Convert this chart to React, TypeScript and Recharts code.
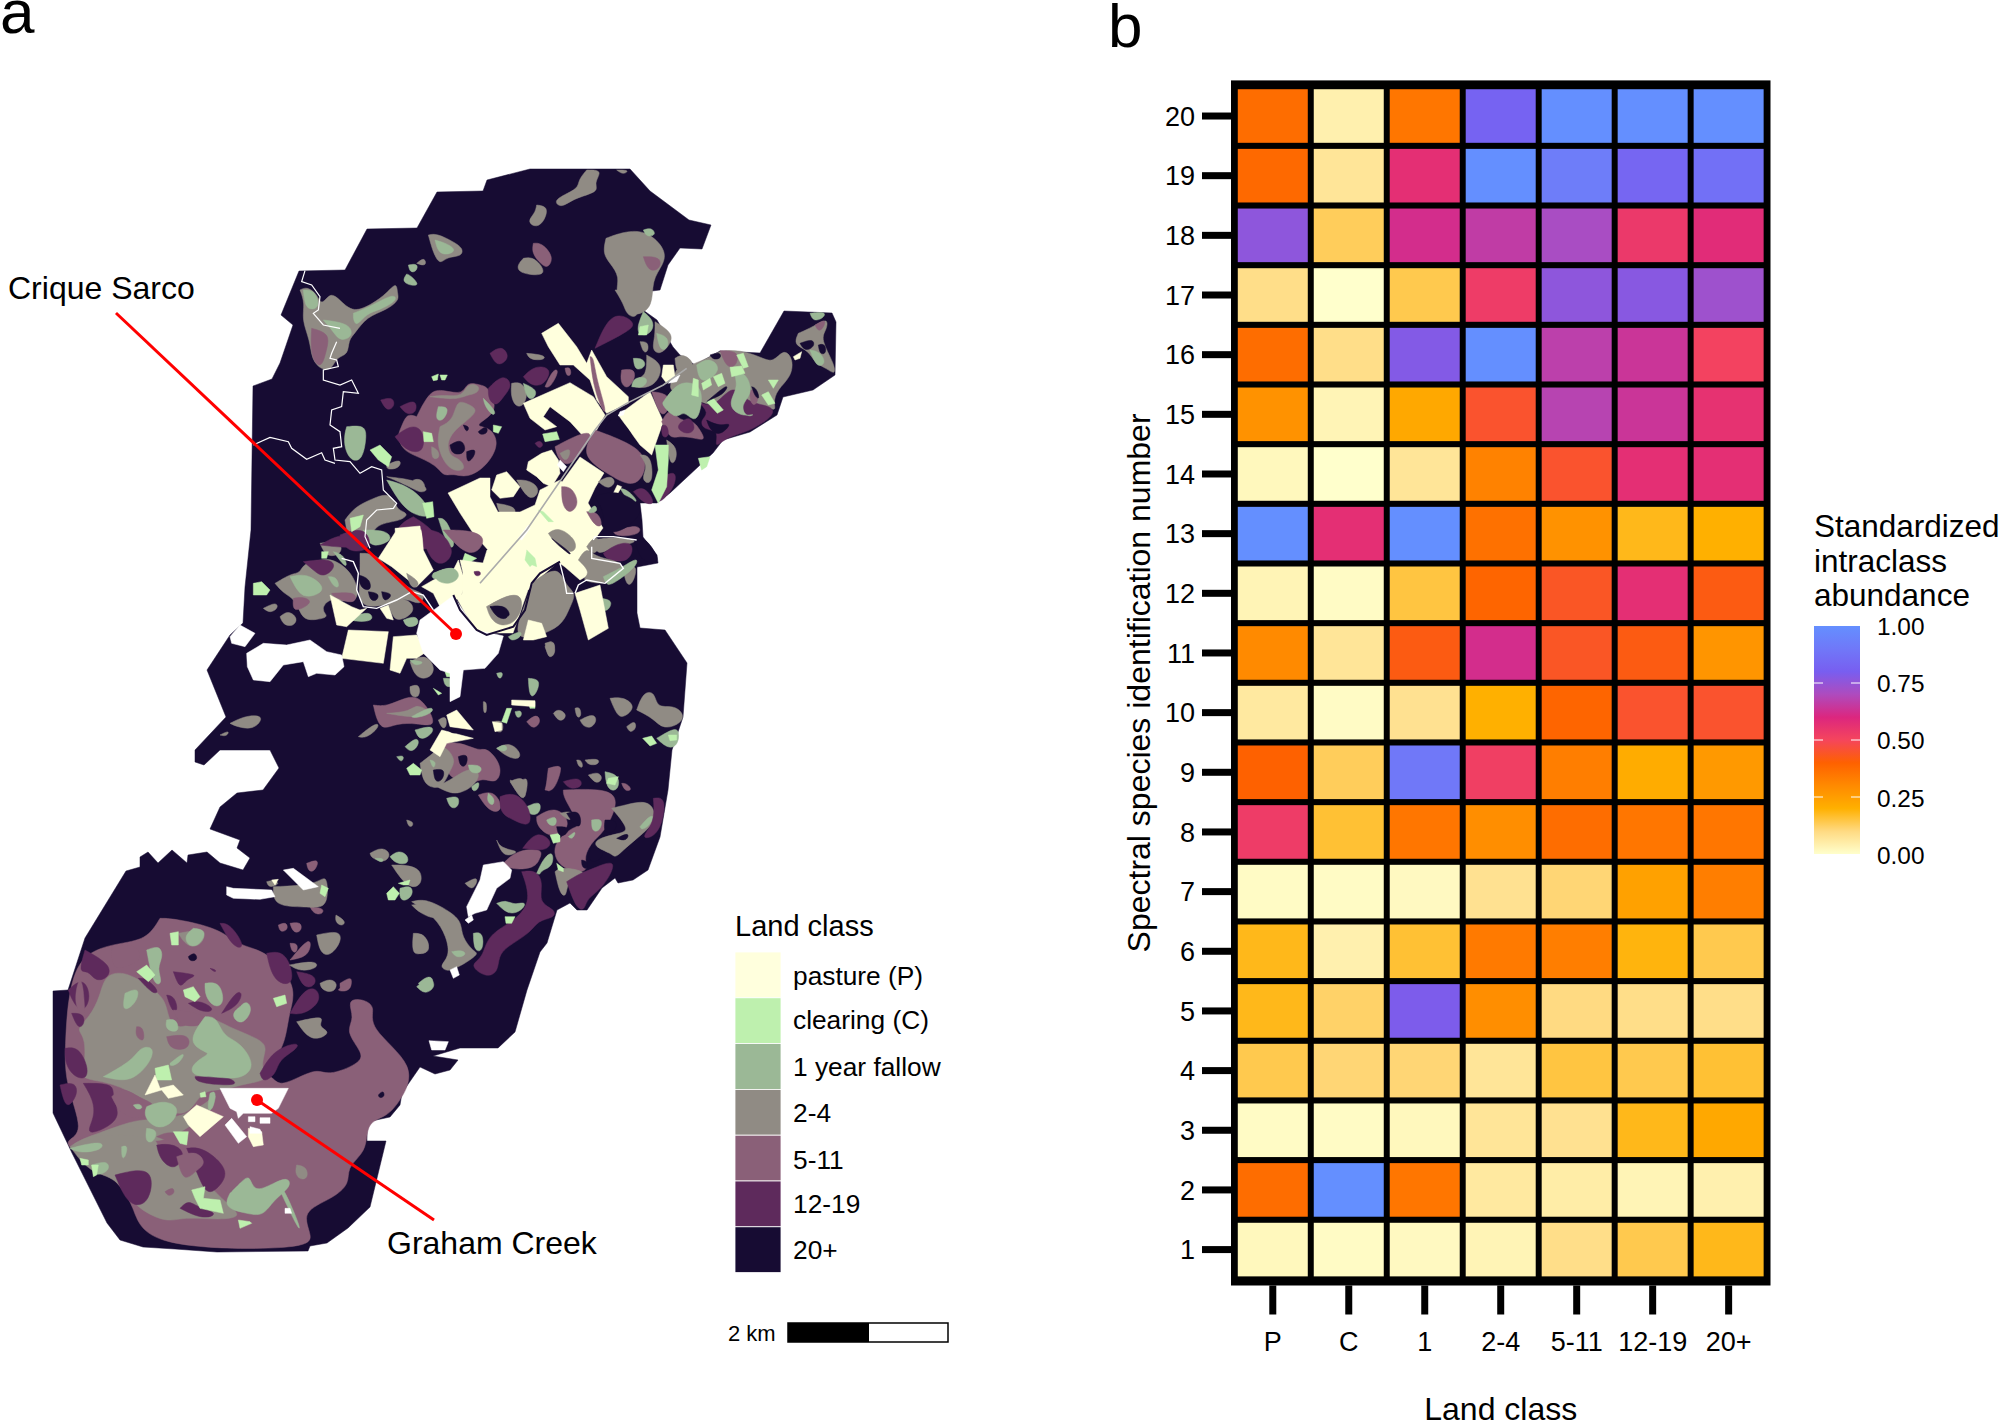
import React from 'react';
import {
  ComposedChart,
  ScatterChart,
  Area,
  Line,
  Scatter,
  XAxis,
  YAxis,
  CartesianGrid,
  ReferenceDot,
} from 'recharts';

const FONT = '"Liberation Sans", Arial, sans-serif';

// panel b
const landClasses = ['P', 'C', '1', '2-4', '5-11', '12-19', '20+'];
const speciesIds = [20, 19, 18, 17, 16, 15, 14, 13, 12, 11, 10, 9, 8, 7, 6, 5, 4, 3, 2, 1];
// one row per species (20 down to 1), one column per land class
const abundanceRows = [
  [0.37, 0.04, 0.35, 0.82, 1.0, 1.0, 1.0],
  [0.38, 0.07, 0.57, 1.0, 0.92, 0.83, 0.87],
  [0.76, 0.13, 0.62, 0.66, 0.71, 0.54, 0.58],
  [0.09, 0.0, 0.14, 0.53, 0.76, 0.77, 0.73],
  [0.37, 0.09, 0.78, 1.0, 0.67, 0.64, 0.51],
  [0.28, 0.03, 0.22, 0.45, 0.68, 0.64, 0.56],
  [0.02, 0.0, 0.07, 0.32, 0.45, 0.57, 0.57],
  [1.0, 0.57, 1.0, 0.36, 0.28, 0.18, 0.2],
  [0.03, 0.01, 0.15, 0.39, 0.44, 0.57, 0.42],
  [0.3, 0.07, 0.42, 0.62, 0.44, 0.42, 0.27],
  [0.06, 0.01, 0.08, 0.2, 0.39, 0.45, 0.45],
  [0.4, 0.13, 0.9, 0.52, 0.33, 0.21, 0.26],
  [0.53, 0.16, 0.35, 0.29, 0.37, 0.35, 0.35],
  [0.01, 0.01, 0.015, 0.08, 0.11, 0.24, 0.33],
  [0.18, 0.04, 0.16, 0.34, 0.33, 0.19, 0.14],
  [0.18, 0.12, 0.79, 0.29, 0.1, 0.09, 0.09],
  [0.14, 0.11, 0.11, 0.07, 0.15, 0.14, 0.16],
  [0.01, 0.01, 0.02, 0.07, 0.08, 0.18, 0.22],
  [0.37, 1.0, 0.35, 0.06, 0.05, 0.03, 0.04],
  [0.02, 0.01, 0.015, 0.03, 0.09, 0.14, 0.18],
];
const colourStops = [
  '#FFFFCC', '#FFDA82', '#FFB000', '#FF8A00', '#FE6100', '#F5455C',
  '#DC267F', '#AE4BBE', '#785EF0', '#7078F8', '#648FFF',
];
const colourBarTicks = ['1.00', '0.75', '0.50', '0.25', '0.00'];

// panel a legend
const legendLabels = ['pasture (P)', 'clearing (C)', '1 year fallow', '2-4', '5-11', '12-19', '20+'];
const legendColours = ['#FFFFDD', '#BEF0AE', '#9BB896', '#908B84', '#8A6078', '#5E2A5C', '#170C33'];

const classColours: Record<string, string> = {
  P: '#FFFFDD', C: '#BEF0AE', F: '#9BB896', G: '#908B84', M: '#8A6078', D: '#5E2A5C', K: '#170C33', B: '#170C33', W: '#FFFFFF',
};
// painted in this order, lower case letters are the second pass over pasture etc
const paintOrder = ['B', 'M', 'G', 'F', 'D', 'C', 'P', 'm', 'g', 'f', 'd', 'c', 'p', 'K', 'W'];
// forest regrowth has round edges, fields and clearings are cut straight
const roundedClasses = ['M', 'G', 'F', 'D', 'm', 'g', 'f', 'd', 'K'];

// map, tiles at 3 units per map unit
const studyArea = [
  'B 530,169 630,169 650,191 689,220 711,225 702,249 680,248 668,265 660,290 644,292 643,310 657,320 673,347 680,355 695,365 720,351 760,353 784,311 832,313 836,322 835,375 813,390 783,397 777,415 750,432 723,440 713,453 670,493 657,503 640,503 642,520 643,537 657,555 658,563 637,567 637,613 640,628 665,630 687,663 683,717 672,750 668,790 660,837 648,870 633,880 618,883 615,878 602,888 587,910 577,910 570,903 557,910 547,943 540,952 527,990 515,1032 498,1048 460,1048 433,1056 458,1060 450,1070 435,1074 420,1067 402,1093 400,1105 390,1117 367,1122 367,1141 386,1141 370,1207 348,1228 327,1243 310,1246 308,1251 217,1252 175,1249 143,1247 120,1240 107,1223 72,1153 53,1113 53,991 68,990 85,938 126,871 140,867 140,857 148,852 158,863 172,850 187,863 188,855 207,852 220,863 243,870 250,858 237,848 240,840 210,829 220,807 237,793 263,790 279,768 270,750 220,750 204,765 195,762 195,750 226,717 207,670 230,635 243,623 245,587 251,530 253,386 272,379 280,363 293,325 281,315 299,271 345,270 367,229 417,228 437,192 483,191 487,180',
  'P 448,493 480,478 490,478 490,497 498,512 520,512 535,505 540,490 560,480 562,482 580,457 604,473 595,488 588,503 603,528 592,543 587,557 592,573 580,580 565,567 558,562 540,578 528,590 520,613 513,633 480,633 477,630 465,613 455,595 462,595 463,573 460,560 483,563 487,550 488,550 473,533 460,513',
];

const tileNorth = [
  'G 1040,60 1090,60 1060,100 1080,125 1000,145 965,175 940,155 970,135 1015,115 1015,90',
  'G 1130,60 1170,60 1150,75',
  'G 890,165 925,170 915,210 890,235 860,215 885,190',
  'G 1098,265 1150,245 1220,240 1280,300 1270,345 1235,390 1240,470 1190,500 1160,480 1150,440 1125,430 1140,380 1110,340 1088,310',
  'm 1210,320 1265,320 1260,360 1225,365',
  'F 1210,240 1235,232 1250,255 1220,262',
  'M 880,280 905,278 942,320 925,355 905,345 875,310',
  'G 850,325 875,320 905,345 915,375 870,375 835,365 832,345',
  'G 565,255 590,250 640,275 670,295 665,320 620,320 600,345 580,310',
  'F 585,270 620,280 650,300 625,315 595,310',
  'G 530,340 555,320 560,350',
  'F 505,345 535,340 530,365 510,368',
  'F 500,372 510,375 540,405 515,408 485,395',
  'G 180,420 200,410 230,430 245,470 270,425 300,450 340,490 400,460 440,430 470,395 472,430 478,450 440,480 380,500 345,550 325,570 325,615 290,620 275,660 245,660 215,630 210,570 185,510 195,460',
  'm 215,535 270,550 260,600 245,655 220,635 212,590',
  'F 190,420 225,420 240,470 215,480 195,470',
  'F 340,490 400,465 460,430 475,450 420,480 380,490 350,530 340,510',
  'F 250,510 330,520 340,560 300,575 280,545',
  'G 815,700 845,695 865,730 850,770 825,770 812,735',
  'F 850,700 895,720 880,750 860,745',
  'C 575,680 595,672 592,690 580,692',
  'C 600,675 622,675 615,690 605,690',
  'M 530,800 570,720 610,720 670,735 680,695 720,705 745,710 770,770 750,800 700,830 750,830 780,880 740,950 680,985 640,970 610,980 590,945 520,915 490,900 470,860 485,830 500,790',
  'D 745,715 790,670 820,705 790,740 770,770 745,750',
  'D 480,770 530,745 530,790 500,795',
  'D 465,860 510,825 550,835 555,910 500,905',
  'D 422,750 460,740 465,770 440,785',
  'G 570,740 610,735 670,740 680,700 720,705 715,730 680,735 650,750',
  'G 600,830 640,810 650,750 680,760 720,780 670,820 640,845 620,880 630,920 660,925 680,960 640,965 610,935 590,880',
  'G 575,890 595,900 600,925 575,930',
  'F 595,770 630,770 610,815 585,810',
  'F 730,745 770,785 760,800 735,770',
  'C 550,845 575,850 580,875 552,875',
  'C 760,825 785,830 775,850 760,845',
  'K 630,885 665,865 680,900 660,915 635,910',
  'K 670,825 690,830 680,850',
  'K 715,845 740,825 745,850 720,855',
  'K 680,905 710,895 700,925 680,940',
  'F 320,830 375,825 380,860 368,930 335,935 315,900 312,860',
  'C 390,900 420,885 455,920 445,950 415,930',
  'G 440,945 485,925 480,955 440,960',
  'D 885,880 900,870 912,885 898,897',
  'C 908,852 950,845 958,868 915,875',
  'G 440,980 530,990 570,1020 540,1030 510,1010',
  'F 440,990 480,1000 520,1020 560,1060 575,1105 520,1095 480,1060',
  'C 548,1060 578,1055 582,1100 560,1105',
  'G 520,990 545,985 560,1015 540,1030',
  'G 315,1110 345,1070 400,1045 440,1030 465,1050 470,1080 510,1090 480,1115 400,1120 380,1200 330,1200',
  'C 330,1105 370,1095 360,1130 335,1145',
  'D 240,1185 320,1140 375,1200',
  'D 520,1100 590,1145 600,1200 470,1200 465,1130',
  'P 465,1135 540,1128 548,1195 470,1200',
  'F 595,1105 620,1105 650,1190 625,1200',
];

const tileEast = [
  'G 405,0 490,0 480,50 470,85 440,75 430,40',
  'F 490,65 520,90 520,120 495,140 465,125',
  'c 480,110 505,105 500,135 475,135',
  'G 525,95 580,130 570,165 540,195 515,180 525,140',
  'f 530,130 565,140 565,175 540,185',
  'G 480,155 505,155 505,185 490,190',
  'F 460,205 490,205 500,230 465,245',
  'G 500,195 545,220 540,260 520,285 490,295 455,290 465,265 500,260',
  'f 455,290 460,265 490,260 505,270 490,295',
  'p 550,225 580,225 585,260 560,280 545,260',
  'G 585,205 610,190 645,220 625,240 590,255',
  'm 425,240 465,235 465,270 440,300 420,275',
  'D 345,175 395,55 475,100 440,125 395,150',
  'D 30,190 65,165 90,200 65,225 45,220',
  'G 140,190 195,195 195,210 150,210',
  'D 130,260 165,225 220,235 190,290 150,285',
  'm 195,290 220,235 240,240 210,295',
  'm 255,235 270,230 275,255 260,260',
  'P 185,130 235,100 290,170 320,220 335,180 380,260 445,320 445,340 380,370 350,330 330,270 280,225 240,225 205,170',
  'm 330,200 340,200 350,270 380,365 370,370 340,290',
  'P 130,340 270,278 340,320 375,375 350,420 320,450 270,395 210,350 190,380 230,410 195,420 150,385',
  'P 415,375 510,305 550,395 515,495 480,465',
  'm 515,305 560,310 575,340 545,395',
  'G 590,240 660,215 700,195 720,182 780,180 840,200 880,220 910,175 940,205 935,260 890,300 880,340 890,365 850,345 810,390 760,360 700,350 650,330 600,310 560,300',
  'm 720,182 778,182 770,230 740,235',
  'K 690,195 720,185 725,205 700,210',
  'F 650,225 690,200 730,240 660,290',
  'D 650,330 700,360 760,275 800,340 870,345 890,372 810,425 740,440 700,480 720,420 670,420 660,390 690,370',
  'K 680,390 720,410 760,395 720,440 690,420',
  'K 680,335 750,275 735,310 700,325',
  'f 550,335 590,280 635,275 670,300 660,375 640,395 610,360 590,390 545,345',
  'f 760,240 800,250 820,310 780,345 800,385 830,370 790,380 755,360 750,330 775,290',
  'c 665,280 690,265 695,285 670,300',
  'c 700,260 725,250 735,280 715,290',
  'c 640,265 655,270 655,320 635,315',
  'c 750,232 785,228 795,250 755,260',
  'c 770,195 790,190 805,230 790,235',
  'c 865,270 895,270 880,295',
  'c 845,315 865,305 885,340 865,345',
  'c 680,335 700,325 730,360 712,370',
  'm 545,395 570,350 600,395 640,390 660,420 680,455 630,440 590,440 570,445',
  'd 600,400 630,375 650,420 620,435 590,415',
  'd 545,410 560,400 570,440 545,445',
  'm 810,300 840,300 830,350 810,340',
  'K 815,290 830,295 840,330 825,320',
  'F 990,70 1040,65 1030,85 1000,95',
  'G 955,130 1000,110 1045,82 1040,120 1020,145 1065,225 1065,255 1040,235 1005,220 985,180 940,165',
  'm 1005,105 1040,85 1030,115 1015,125',
  'f 990,180 1020,185 1040,220 1010,235',
  'K 960,160 1000,145 1005,170 975,185',
  'K 1015,165 1035,160 1040,190 1020,195',
  'p 940,200 965,185 960,205 945,210',
  'm 345,420 480,470 505,530 465,600 380,550 300,495',
  'd 460,605 485,590 510,610 525,645 490,640',
  'm 225,470 300,430 345,425 300,495 265,530 235,510',
  'g 240,490 275,470 265,510 250,510',
  'K 375,415 395,375 440,405 470,460 420,450',
  'g 480,495 515,495 520,590 480,570 505,530',
  'c 525,465 565,465 565,510 560,590 535,640 515,600 535,540',
  'g 560,450 590,470 590,510 570,530',
  'd 550,560 590,540 585,590 550,630 530,640',
  'C 655,505 690,500 680,530 665,540',
  'f 420,595 445,600 480,640 445,635',
  'g 355,575 390,555 410,575 385,600',
  'p 395,620 412,585 425,590 405,625',
  'P 145,515 185,490 215,480 235,510 240,550 215,590 190,580 170,560 140,540',
  'P 50,555 80,545 120,590 100,620 60,625 35,600',
  'G 50,640 110,650 105,680 60,680',
  'G 110,570 150,570 185,600 150,640',
  'g 205,730 235,710 285,745 290,780 265,790 225,760',
  'K 215,745 235,760 275,790 270,797',
  'g 320,770 345,735 370,760 340,800',
  'm 245,590 275,590 300,640 270,675 245,645',
  'c 140,785 165,815 150,830 135,810',
  'c 175,660 190,665 220,695 205,695',
  'm 320,665 355,665 370,710 345,710',
  'f 325,665 345,640 355,665 330,670',
  'K 345,620 385,605 430,610 485,645 480,680 420,730 365,725 375,670',
  'm 400,725 480,700 485,735 410,740',
  'G 340,750 400,740 470,750 460,760 400,770 350,800',
  'D 370,790 410,760 465,755 450,820 380,810',
  'K 465,750 495,740 535,800 530,820 480,815',
  'g 295,810 320,770 345,800 400,810 430,825 425,840 380,880 350,880 300,870 335,850',
  'f 370,860 430,830 475,800 470,830 410,875 380,890',
  'g 430,840 475,820 460,880 440,890',
  'g 160,875 235,825 255,885 290,910 270,950 250,1000 200,1030 125,1050 105,1020 140,930',
  'm 170,880 205,875 230,925 170,930 160,910',
  'm 155,970 205,960 190,985 150,990',
  'p 285,910 360,885 385,1015 325,1050 300,960',
  'm 330,915 365,915 355,940 335,935',
  'p 130,1050 145,990 185,1000 200,1040 160,1050',
  'g 20,950 75,920 120,910 130,950 105,1000 60,1010 30,985',
  'K 30,950 75,945 90,990 50,985',
  'G 195,1060 225,1050 225,1090 205,1110',
  'f 360,925 400,930 385,965 360,960',
  'f 85,1040 125,1020 125,1040 95,1055',
  'W 240,510 260,530 250,545 232,525',
  'W 575,265 600,255 590,275 565,280',
  'W 420,365 435,360 430,375 415,378',
  'W 115,745 145,705 150,715 125,750',
];

const tileCentre = [
  'G 165,160 215,130 240,130 250,100 300,90 340,85 400,130 420,200 390,220 330,200 300,240 330,260 290,270 245,270 230,210 190,190',
  'D 250,95 330,85 350,110 310,145 280,120',
  'f 210,140 260,130 310,165 305,190 255,205 230,180',
  'm 220,205 250,200 280,215 240,240 218,240',
  'F 325,140 350,140 360,175 340,170',
  'm 335,190 405,185 410,210 390,220 340,200',
  'D 360,15 400,0 440,0 460,60 380,70',
  'G 300,40 360,30 370,70 320,85',
  'F 430,0 500,0 520,30 470,50 445,40',
  'C 305,65 325,65 320,85 305,85',
  'F 340,65 375,75 385,125',
  'G 420,70 470,70 510,130 570,180 620,190 600,230 560,200 500,225 430,235 415,190 420,165',
  'K 415,135 450,145 455,185 420,175',
  'K 445,185 480,190 470,215 450,210',
  'K 485,185 515,190 510,205 490,215',
  'p 330,195 395,230 420,240 440,235 380,290 350,285',
  'f 390,265 450,240 465,275 400,275',
  'p 480,235 505,225 520,270 500,265',
  'G 505,220 560,200 590,240 550,270 520,270',
  'F 550,270 590,255 600,285 560,295',
  'P 475,85 530,0 605,0 610,60 640,120 590,170 515,110',
  'd 605,0 665,0 710,70 660,115 620,70',
  'F 640,130 700,105 725,140 690,165 630,145',
  'g 560,130 600,155 590,175 570,170',
  'm 670,0 745,0 800,20 775,70 730,70',
  'P 605,170 640,150 695,130 715,90 730,140 725,200 660,230 640,190',
  'f 640,130 700,105 725,140 690,165 650,155',
  'C 735,70 770,85 745,100 725,100',
  'g 800,230 870,190 910,200 890,260 850,270 820,260',
  'K 810,230 860,225 875,265 840,255',
  'c 920,60 945,85 950,110 925,100',
  'd 762,125 782,122 782,138 765,138',
  'W 590,310 600,270 700,197 735,250 770,300 850,318 835,370 795,415 730,420 720,500 690,515 690,430 660,420 610,370',
  'W 30,320 60,285 105,310 75,350 35,340',
  'W 80,370 130,340 200,345 270,330 320,365 365,375 372,410 345,435 290,430 265,440 250,395 190,405 150,455 100,450 82,410',
  'p 385,300 505,305 490,400 365,385',
  'p 520,320 590,315 620,365 590,385 560,385 540,430 510,420',
  'g 570,395 620,370 650,420 620,450 585,440',
  'm 580,410 625,400 640,430 600,450',
  'f 570,390 620,395 585,410',
  'F 670,445 705,445 700,470 675,472',
  'C 640,475 665,490 655,495',
  'C 675,425 700,425 695,440 680,440',
  'F 830,430 850,425 845,445 835,445',
  'C 100,160 125,155 150,180 140,195 100,195',
  'G 130,235 170,215 175,235 150,250',
  'G 180,260 205,240 235,265 220,290 190,285',
  'G 975,350 995,325 1010,365 990,390',
  'M 460,525 500,530 560,500 600,500 640,560 640,590 590,580 530,580 490,600 470,570',
  'G 570,470 600,460 600,505 570,500',
  'g 500,550 570,545 590,520 640,550 590,565',
  'f 575,560 640,525 640,550 585,565',
  'F 585,600 640,585 640,610 600,635',
  'G 415,620 470,575 480,590 440,625',
  'G 30,580 70,560 110,555 130,565 100,600 50,590',
  'G 0,615 30,600 20,620',
  'G 655,570 680,555 680,595 665,595',
  'P 680,555 710,540 760,600 690,590',
  'K 680,590 720,610 690,610',
  'P 630,660 665,600 760,625 680,640 660,680',
  'G 790,515 800,515 800,550 790,550',
  'C 860,535 875,535 860,580 845,575',
  'F 925,445 965,448 945,500 928,500',
  'P 875,510 945,512 945,530 875,525',
  'C 925,515 945,515 945,535 930,535',
  'G 820,575 850,570 850,610 825,605',
  'P 817,575 845,580 845,600 825,605',
  'M 920,575 950,550 965,575 940,600',
  'F 885,545 905,540 905,560 890,565',
  'M 660,640 720,635 780,665 800,650 850,710 830,765 790,740 740,770 720,750 680,740',
  'K 715,680 745,670 740,710 720,710',
  'G 600,700 640,670 670,640 710,690 690,720 670,770 640,775 610,760',
  'F 630,690 650,695 640,720',
  'K 640,720 675,715 670,750 645,760',
  'G 650,770 700,745 750,710 785,730 760,770 720,790 690,790',
  'F 745,705 785,705 785,730 750,730',
  'F 755,770 780,750 775,780 758,785',
  'F 680,805 720,795 715,835 690,835',
  'C 560,715 580,700 605,720 600,735 570,735',
  'F 555,650 590,620 600,640 575,670',
  'F 530,680 555,675 545,700',
  'G 830,655 870,635 905,670 895,690 860,680',
  'F 830,655 855,640 865,660 845,665',
  'G 870,750 895,760 925,735 920,790 905,815',
  'M 975,780 990,715 1025,705 1020,735 1000,785',
  'M 775,795 820,780 850,830 830,850 800,835',
  'F 805,790 825,805 820,830 800,815',
  'D 840,800 885,785 930,830 935,895 880,870 840,850',
  'F 920,830 965,810 960,855 925,855',
];

const tileSouthEast = [
  'G 810,145 850,140 890,170 850,205 830,195',
  'G 890,180 910,125 945,125 950,175 1000,165 1032,190 1025,220 970,240 940,205',
  'G 860,230 885,210 890,235 870,250',
  'F 950,265 1000,235 1018,240 1015,285 985,298',
  'C 985,255 1010,255 1010,270 990,272',
  'C 908,265 935,258 950,280 930,288',
  'G 640,190 655,175 685,195 660,220',
  'G 705,175 720,170 725,200 710,205',
  'G 720,210 760,190 772,210 755,235 730,230',
  'M 625,355 660,345 665,360 640,375 640,420 615,430',
  'G 710,330 725,330 730,355 715,350',
  'G 735,330 780,325 775,345 745,345',
  'G 745,375 775,365 790,385 770,405',
  'F 795,365 840,375 835,425 800,420',
  'C 805,385 835,380 825,405 800,400',
  'M 845,400 860,400 878,420 855,425',
  'D 670,395 720,380 730,410 690,420',
  'G 510,395 555,375 560,440 545,450',
  'M 670,420 800,415 840,450 795,545 760,570 730,620 745,660 715,670 660,650 640,610 650,570 700,530 720,530 700,490 670,440',
  'G 815,475 855,465 920,450 945,480 945,520 885,570 850,600 825,625 815,610 760,590 770,565 840,550 870,540',
  'F 900,530 930,495 945,500 925,530 905,540',
  'K 795,510 835,510 825,550 790,550',
  'K 830,565 870,545 860,575',
  'D 940,445 982,440 960,560 895,570 945,520',
  'D 680,695 720,670 750,660 840,620 790,715 740,745 735,780 710,780',
  'G 645,665 665,650 745,665 715,690 680,700 680,740 660,735',
  'K 755,590 800,605 770,640 740,630',
  'K 725,630 745,635 740,660 725,650',
  'M 490,640 530,600 610,595 600,625 585,655 515,660',
  'G 470,570 480,590 510,600 540,605 490,625',
  'f 590,670 610,625 640,600 640,650 605,660 600,675',
  'C 650,640 670,655 670,665 655,660',
  'D 548,595 590,540 640,575 620,600 585,600',
  'M 590,500 650,465 700,525 640,570 590,530',
  'F 620,510 650,495 650,530 625,525',
  'K 650,530 690,530 680,555 655,560',
  'C 630,555 660,550 660,575 640,580',
  'F 685,560 710,540 700,565 690,565',
  'g 660,490 700,480 695,520',
  'K 680,490 720,480 725,530 705,530',
  'f 755,510 790,505 780,545 755,545',
  'D 545,665 590,660 610,700 595,760 650,780 640,805 595,810 570,850 500,890 475,920 475,965 440,985 385,945 430,925 440,855 530,810 575,750',
  'F 470,760 500,750 520,765 555,755 555,770 530,790 500,790',
  'C 495,800 525,800 515,820 498,820',
  'G 215,755 260,745 340,790 365,820 365,860 400,905 420,910 360,950 340,955 325,965 295,950 330,920 320,860 285,800',
  'F 400,850 430,845 430,905 402,905',
  'F 335,905 370,900 380,915 350,925',
  'W 330,960 350,950 358,975 340,985',
  'G 235,855 250,850 275,900 245,915 220,905',
  'F 235,1000 265,975 285,990 265,1030',
  'M 0,1000 40,975 30,1020 0,1025',
  'G 375,700 420,675 400,725',
  'W 380,770 420,690 430,645 490,635 515,660 510,685 470,715 440,780 405,790 385,800',
  'W 375,810 395,795 400,810 385,820',
  'G 90,610 125,590 155,610 135,640 95,625',
  'F 150,620 175,600 205,615 205,645 165,640',
  'F 105,625 135,625 125,640',
  'G 155,645 205,645 245,660 245,705 215,715 185,690',
  'C 175,700 210,690 205,705 190,705',
  'C 140,730 160,710 178,730 165,750 145,750',
  'F 180,715 215,705 220,735 195,755 178,745',
  'G 200,510 220,515 218,530 205,530',
];

const tileSouth = [
  'M 360,205 400,205 540,235 600,290 680,300 775,410 745,490 735,600 660,670 700,680 720,715 830,650 860,680 960,640 970,610 915,545 945,505 920,450 965,445 1010,470 980,530 1135,650 1080,755 1040,800 985,815 980,870 970,910 920,955 930,1000 880,1045 780,1085 820,1160 800,1200 310,1195 285,1070 220,975 90,900 75,870 135,850 75,700 75,590 85,420 125,310 230,280 320,270',
  'G 415,250 470,240 500,250 480,290 440,290',
  'F 460,235 500,240 485,280 450,295 430,260',
  'C 390,250 415,245 415,285 395,285',
  'G 130,680 140,560 105,540 150,500 180,440 195,370 260,365 330,410 380,450 385,520 430,540 500,490 560,530 670,570 680,600 660,650 690,690 620,700 550,720 500,720 470,750 440,800 360,780 300,740 220,700 150,690',
  'G 150,860 280,810 330,810 430,800 500,760 540,720 500,800 400,860 340,880 290,850',
  'G 90,890 135,860 280,820 345,850 350,900 420,910 500,1000 560,1060 610,1100 540,1110 430,1100 380,1120 280,1070 230,980 150,970',
  'm 215,740 250,710 300,745 345,760 340,790 290,810 240,790',
  'm 350,860 395,840 450,870 430,890',
  'm 410,920 470,900 500,940 470,960 430,1000',
  'm 290,530 310,530 315,580 285,560',
  'm 380,560 450,550 450,600 390,600',
  'm 400,480 500,490 490,530 420,530',
  'm 215,290 290,280 310,330 260,350 215,360',
  'm 135,500 100,470 115,380 130,400',
  'D 135,300 215,345 205,385 165,395 145,360 115,370',
  'D 85,420 130,380 155,440 130,490 100,460',
  'D 95,490 130,490 135,520 115,540',
  'D 75,595 115,590 145,650 140,690 100,680 75,640',
  'D 60,705 105,695 115,730 85,775 70,750',
  'D 130,700 225,700 215,740 245,800 190,840 135,855 165,800 160,750',
  'D 225,975 345,945 330,1060 280,1070 250,1035',
  'D 350,885 400,880 440,910 405,965 360,930',
  'D 440,895 490,890 570,960 540,1010 500,1040 470,965',
  'D 420,1075 445,1050 470,1070 540,1090 490,1110',
  'D 540,220 570,220 620,295 580,295',
  'D 680,310 740,300 770,410 700,400',
  'D 295,385 320,385 360,425 340,435',
  'D 400,365 480,375 440,385 420,420',
  'D 380,435 405,440 415,485 395,485',
  'D 445,460 480,450 530,480 490,490',
  'D 545,490 590,420 610,430 590,470',
  'D 465,680 560,675 610,710 470,700',
  'D 510,355 530,360 525,368',
  'D 660,670 700,600 775,575 775,595 715,630 710,670 670,700',
  'D 750,490 790,420 830,410 845,455 790,495',
  'D 770,365 830,375 825,410 790,415',
  'K 445,320 465,305 475,330 450,335',
  'K 1015,735 1030,720 1035,740 1018,745',
  'f 320,300 360,285 370,320 350,355 370,400 340,410',
  'f 255,430 300,410 290,460 245,490',
  'f 495,400 540,395 555,460 525,475 495,440',
  'f 600,470 620,450 640,480 605,530 570,495',
  'f 380,510 410,505 420,550 375,540',
  'f 495,500 530,500 550,560 600,575 650,650 600,690 530,680 460,680 450,650 490,620 510,610 480,600 445,570',
  'f 190,680 280,630 300,590 345,590 330,640 280,690 230,690',
  'f 390,640 440,600 420,640 390,650',
  'c 345,655 385,645 395,690 350,690',
  'p 315,735 345,675 360,715 400,705 430,735 385,745 365,720',
  'f 320,770 370,750 420,770 400,820 350,840 310,800',
  'f 320,835 355,840 340,880 315,875',
  'f 90,895 190,870 190,900 120,910',
  'f 155,945 205,930 210,965 160,980',
  'c 120,925 145,930 145,945 125,945',
  'c 155,945 175,945 170,975 160,980',
  'f 280,765 300,760 310,775 290,780',
  'f 245,890 265,885 255,925 245,925',
  'f 510,730 530,720 520,780 500,785',
  'c 430,420 460,410 480,440 465,455 435,440',
  'c 290,365 320,345 345,375 325,395',
  'c 700,445 735,435 740,460 710,470',
  'c 480,730 495,725 498,740 482,742',
  'c 400,845 445,845 440,885 420,880',
  'p 430,800 470,765 550,800 480,860 445,825',
  'c 455,1020 495,1010 490,1045 540,1050 550,1090 480,1075 465,1045',
  'f 570,1030 600,1000 630,970 640,1030 700,1000 745,980 755,1010 700,1050 670,1100 620,1090 575,1080 555,1060',
  'm 590,1050 620,1040 630,1060 600,1065',
  'm 685,1050 700,1045 700,1065 685,1065',
  'f 710,1000 730,1010 785,1140 775,1140',
  'c 595,1110 630,1115 635,1120 600,1135',
  'W 735,1075 750,1075 755,1090 735,1090',
  'g 770,945 800,950 805,985 780,990 765,970',
  'm 375,1025 400,1010 405,1030 385,1040',
  'W 540,715 745,715 715,775 695,790 610,790 595,805 590,785 570,775',
  'W 625,800 645,800 645,815 625,815',
  'W 660,803 690,803 690,820 660,820',
  'W 555,825 575,805 620,860 595,880',
  'p 625,835 665,845 670,885 640,890 625,860',
  'W 630,830 660,838 665,850 630,850',
  'g 700,110 830,105 860,70 865,140 850,175 800,170 700,170',
  'c 845,105 865,115 855,140 840,130',
  'm 800,40 840,25 825,65 805,65',
  'm 810,170 855,175 845,195 820,190',
  'g 680,95 700,90 720,100 700,110 685,110',
  'p 695,90 715,88 705,105',
  'W 730,60 760,55 835,110 790,120',
  'W 560,110 580,115 695,120 705,140 660,148 580,145 560,135',
  'g 830,255 900,240 905,275 870,320 840,310',
  'g 888,195 920,215 905,230 885,215',
  'm 715,225 740,215 745,240 720,248',
  'm 750,220 785,215 785,245 760,250',
  'm 750,280 775,280 770,310 755,305',
  'm 750,330 800,270 815,275 805,320',
  'g 748,345 830,330 835,355 780,365',
  'g 840,400 870,385 895,400 880,430 845,420',
  'm 895,420 935,375 935,420 905,425',
  'g 1115,165 1200,155 1200,215 1140,190',
  'g 1120,250 1150,250 1175,290 1140,315 1115,310',
  'f 1130,410 1170,375 1190,410 1155,435',
  'g 770,515 860,495 830,530 875,545 835,570 800,560',
];

const tileHarbour = [
  'W 597,272 655,275 645,300 605,300',
];

const riversNorth = [
  '195,362 185,395 215,405 240,440 235,480 220,490 250,525 300,535',
  '290,575 275,610 270,625 290,630 295,650 250,660 250,690 300,705 335,690 355,730 310,725 305,770 275,780 270,825 300,845 305,890 280,895 285,930 330,935 360,970 395,950 425,960 430,1020 470,1060 460,1075 410,1080 380,1110 375,1160 390,1195',
  '40,885 90,862 145,875 155,895 200,928 245,908 255,930 285,940',
];
const riversCentre = ['365,85 400,95 415,130 410,180 430,230 470,235 530,210 575,185 610,195 640,240'];
const riversEast = [
  '340,750 345,740 400,740 470,750',
  '335,770 335,805 420,820 430,835 375,880 320,870 295,885 285,910',
  '240,820 255,880 260,910 280,910',
];
const darkRiver = ['700,195 720,240 770,300 800,315 880,290 915,240 935,160 960,130 1020,95'];
const roadLine = ['0,880 140,720 345,420 380,375 440,340 550,285 620,235'];

const sites = [
  { name: 'Crique Sarco', x: 456, y: 634, fromX: 116, fromY: 313 },
  { name: 'Graham Creek', x: 257, y: 1100, fromX: 434, fromY: 1220 },
];

type Pt = { x: number | null; y: number | null };

const readPts = (text: string, ox: number, oy: number, k: number): Pt[] =>
  text.split(' ').map((p) => {
    const [a, b] = p.split(',').map(Number);
    return { x: ox + a / k, y: oy + b / k };
  });

const readTile = (rows: string[], ox: number, oy: number, k = 3) =>
  rows.map((row) => ({ cls: row[0], pts: readPts(row.slice(2), ox, oy, k) }));

const allPatches = [
  ...readTile(studyArea, 0, 0, 1),
  ...readTile(tileNorth, 240, 150),
  ...readTile(tileEast, 480, 290),
  ...readTile(tileCentre, 220, 530),
  ...readTile(tileSouthEast, 340, 650),
  ...readTile(tileSouth, 40, 850),
  ...readTile(tileHarbour, 230, 950),
];

// closed ring, all turned the same way so overlaps in one path don't cancel
function closeRing(pts: Pt[]) {
  let sum = 0;
  pts.forEach((p, i) => {
    const q = pts[(i + 1) % pts.length];
    sum += (p.x as number) * (q.y as number) - (q.x as number) * (p.y as number);
  });
  const ring = sum < 0 ? [...pts].reverse() : pts;
  return [...ring, ring[0], { x: null, y: null }];
}

const layerData = paintOrder.map((cls) => ({
  cls,
  color: classColours[cls.toUpperCase()],
  curve: roundedClasses.includes(cls) ? 'basis' : 'linear',
  data: allPatches.filter((p) => p.cls === cls).flatMap((p) => closeRing(p.pts)),
}));

const lineSets = [
  ...roadLine.map((t) => ({ pts: readPts(t, 480, 290, 3), color: '#ABABAB', w: 1.6 })),
  ...riversNorth.map((t) => ({ pts: readPts(t, 240, 150, 3), color: '#FFFFFF', w: 1.2 })),
  ...riversCentre.map((t) => ({ pts: readPts(t, 220, 530, 3), color: '#FFFFFF', w: 1.4 })),
  ...riversEast.map((t) => ({ pts: readPts(t, 480, 290, 3), color: '#FFFFFF', w: 1.4 })),
  ...darkRiver.map((t) => ({ pts: readPts(t, 220, 530, 3), color: '#170C33', w: 2 })),
];

const heatCells = abundanceRows.flatMap((row, r) =>
  row.map((value, c) => ({ x: c + 1, y: speciesIds[r], value }))
);

function abundanceColour(v: number) {
  const pos = Math.min(v, 0.9999) * (colourStops.length - 1);
  const i = Math.floor(pos);
  const t = pos - i;
  const hex = (s: string, n: number) => parseInt(s.slice(1 + n * 2, 3 + n * 2), 16);
  const mix = [0, 1, 2].map((n) =>
    Math.round(hex(colourStops[i], n) * (1 - t) + hex(colourStops[i + 1], n) * t)
  );
  return `rgb(${mix.join(',')})`;
}

function HeatCell({ cx, cy, payload }: any) {
  return <rect x={cx - 35} y={cy - 26.8} width={70} height={53.6} fill={abundanceColour(payload.value)} />;
}

function MapPanel() {
  return (
    <div style={{ position: 'absolute', left: 0, top: 0 }}>
      <ComposedChart width={900} height={1423} margin={{ top: 0, right: 0, bottom: 0, left: 0 }}>
        <XAxis type="number" dataKey="x" domain={[0, 900]} hide />
        <YAxis type="number" domain={[0, 1423]} reversed hide />
        {layerData.map((layer) => (
          <Area
            key={layer.cls}
            data={layer.data}
            dataKey="y"
            type={layer.curve as any}
            fill={layer.color}
            fillOpacity={1}
            stroke={layer.color}
            strokeWidth={0.5}
            dot={false}
            activeDot={false}
            isAnimationActive={false}
          />
        ))}
        {lineSets.map((l, i) => (
          <Line
            key={i}
            data={l.pts}
            dataKey="y"
            type="linear"
            stroke={l.color}
            strokeWidth={l.w}
            dot={false}
            activeDot={false}
            isAnimationActive={false}
          />
        ))}
        {sites.map((s) => (
          <Line
            key={s.name}
            data={[{ x: s.fromX, y: s.fromY }, { x: s.x, y: s.y }]}
            dataKey="y"
            type="linear"
            stroke="#FF0000"
            strokeWidth={3}
            dot={false}
            activeDot={false}
            isAnimationActive={false}
          />
        ))}
        {sites.map((s) => (
          <ReferenceDot key={s.name} x={s.x} y={s.y} r={6} fill="#FF0000" stroke="none" />
        ))}
      </ComposedChart>
    </div>
  );
}

function HeatPanel() {
  return (
    <div style={{ position: 'absolute', left: 1100, top: 0 }}>
      <ScatterChart width={900} height={1423} margin={{ top: 80.4, right: 229.5, bottom: 0.5, left: 11 }}>
        <CartesianGrid horizontal={false} vertical={false} fill="#000" stroke="none" />
        <XAxis
          type="number"
          dataKey="x"
          domain={[0.45, 7.551]}
          ticks={[1, 2, 3, 4, 5, 6, 7]}
          interval={0}
          tickFormatter={(v: number) => landClasses[v - 1]}
          height={137}
          axisLine={false}
          tickLine={{ stroke: '#000', strokeWidth: 7 }}
          tickSize={29}
          tickMargin={17}
          tick={{ fill: '#000', fontSize: 27, fontFamily: FONT }}
          label={{ value: 'Land class', position: 'insideBottom', offset: 3, fill: '#000', fontSize: 32, fontFamily: FONT }}
        />
        <YAxis
          type="number"
          dataKey="y"
          domain={[0.398, 20.597]}
          ticks={speciesIds}
          interval={0}
          width={120}
          axisLine={false}
          tickLine={{ stroke: '#000', strokeWidth: 7 }}
          tickSize={29}
          tickMargin={7}
          tick={{ fill: '#000', fontSize: 27, fontFamily: FONT }}
          label={{
            value: 'Spectral species identification number',
            angle: -90,
            position: 'insideLeft',
            offset: 28,
            fill: '#000',
            fontSize: 32,
            fontFamily: FONT,
            style: { textAnchor: 'middle' },
          }}
        />
        <Scatter data={heatCells} shape={<HeatCell />} isAnimationActive={false} />
      </ScatterChart>
    </div>
  );
}

const swatchBaselines = [985, 1029, 1076, 1122, 1169, 1213, 1259];
const barBaselines = [635, 692, 749, 807, 864];

function Annotations() {
  return (
    <svg
      width={2000}
      height={1423}
      style={{ position: 'absolute', left: 0, top: 0, pointerEvents: 'none' }}
      fontFamily={FONT}
      fill="#000"
    >
      <defs>
        <linearGradient id="abundanceBar" x1="0" y1="1" x2="0" y2="0">
          {colourStops.map((c, i) => (
            <stop key={i} offset={i / (colourStops.length - 1)} stopColor={c} />
          ))}
        </linearGradient>
      </defs>
      <text x={0} y={33} fontSize={62}>a</text>
      <text x={1108} y={47} fontSize={62}>b</text>
      <text x={8} y={299} fontSize={32}>Crique Sarco</text>
      <text x={387} y={1254} fontSize={32}>Graham Creek</text>

      <text x={735} y={936} fontSize={29}>Land class</text>
      {legendColours.map((c, i) => (
        <rect key={c} x={735} y={952 + i * 45.8} width={46} height={45.8} fill={c} stroke="#fff" strokeWidth={0.8} />
      ))}
      {legendLabels.map((t, i) => (
        <text key={t} x={793} y={swatchBaselines[i]} fontSize={26.3}>{t}</text>
      ))}
      <text x={728} y={1341} fontSize={22}>2 km</text>
      <rect x={788} y={1323} width={160} height={19} fill="#fff" stroke="#000" strokeWidth={1.5} />
      <rect x={788} y={1323} width={81} height={19} fill="#000" />

      {['Standardized', 'intraclass', 'abundance'].map((t, i) => (
        <text key={t} x={1814} y={537 + i * 34.5} fontSize={31.5}>{t}</text>
      ))}
      <rect x={1814} y={626} width={46} height={228} fill="url(#abundanceBar)" />
      {[683, 740, 797].map((y) => (
        <g key={y} stroke="#fff" strokeWidth={1}>
          <line x1={1814} x2={1823} y1={y} y2={y} />
          <line x1={1851} x2={1860} y1={y} y2={y} />
        </g>
      ))}
      {colourBarTicks.map((t, i) => (
        <text key={t} x={1877} y={barBaselines[i]} fontSize={24.4}>{t}</text>
      ))}
    </svg>
  );
}

export default function App() {
  return (
    <div style={{ position: 'absolute', left: 0, top: 0, width: 2000, height: 1423, background: '#fff', overflow: 'hidden' }}>
      <MapPanel />
      <HeatPanel />
      <Annotations />
    </div>
  );
}
